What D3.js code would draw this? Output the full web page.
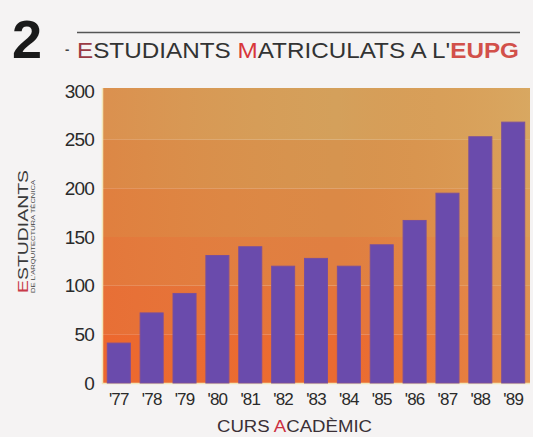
<!DOCTYPE html>
<html>
<head>
<meta charset="utf-8">
<script src="https://cdn.jsdelivr.net/npm/d3@7"></script>
<style>
  body { margin: 0; background: #f5f3f3; }
  svg { display: block; }
</style>
</head>
<body>
<div id="chart"></div>
<script>
var years = ["'77", "'78", "'79", "'80", "'81", "'82", "'83", "'84", "'85", "'86", "'87", "'88", "'89"];
var students = [41, 72, 92, 131, 140, 120, 128, 120, 142, 167, 195, 253, 268];
var yTicks = [0, 50, 100, 150, 200, 250, 300];
var bandColors = ["#eb6a30", "#e5743a", "#e07f41", "#db8946", "#d6944f", "#d4a05b"];

var width = 533,
    height = 437;

var svg = d3.select("#chart")
    .append("svg")
    .attr("width", width)
    .attr("height", height);

var x = d3.scaleBand()
    .domain(years)
    .range([104, 528])
    .paddingInner(0.3)
    .paddingOuter(0.1);

var y = d3.scaleLinear()
    .domain([0, 300])
    .range([383, 91]);

/* background gradient */
var defs = svg.append("defs");
var grad = defs.append("linearGradient")
    .attr("id", "sheen")
    .attr("x1", 0).attr("y1", 0).attr("x2", 1).attr("y2", 0);
grad.append("stop").attr("offset", "0%").attr("stop-color", "#f06028").attr("stop-opacity", 0.25);
grad.append("stop").attr("offset", "55%").attr("stop-color", "#e88a40").attr("stop-opacity", 0);
grad.append("stop").attr("offset", "100%").attr("stop-color", "#dcae66").attr("stop-opacity", 0.55);

var plotTop = 88;

svg.append("g")
    .selectAll("rect")
    .data(bandColors)
    .enter().append("rect")
    .attr("x", 102)
    .attr("width", 428)
    .attr("y", function(d, i) { return i == 5 ? plotTop : y((i + 1) * 50); })
    .attr("height", function(d, i) { return i == 5 ? y(250) - plotTop : y(i * 50) - y((i + 1) * 50); })
    .attr("fill", function(d) { return d; });

svg.append("rect")
    .attr("x", 102)
    .attr("y", plotTop)
    .attr("width", 428)
    .attr("height", y(0) - plotTop)
    .attr("fill", "url(#sheen)");

// thin light edges of the panel
svg.append("path")
    .attr("d", "M102.5," + plotTop + "V" + (y(0) + 0.5) + "H530")
    .attr("fill", "none")
    .attr("stroke", "#f3e6b8")
    .attr("stroke-width", 1.5);

/* bars */
svg.append("g")
    .selectAll("rect")
    .data(students)
    .enter().append("rect")
    .attr("x", function(d, i) { return x(years[i]); })
    .attr("y", function(d) { return y(d); })
    .attr("width", x.bandwidth())
    .attr("height", function(d) { return y(0) - y(d); })
    .attr("fill", "#6a4bac")
    .attr("stroke", "#7a4f9c")
    .attr("stroke-width", 1);

/* axes */
var yAxis = svg.append("g")
    .attr("transform", "translate(94,0)")
    .call(d3.axisLeft(y).tickValues(yTicks).tickSize(0).tickPadding(0));
yAxis.select(".domain").remove();
yAxis.selectAll("text")
    .attr("font-family", "Liberation Sans, Arial, sans-serif")
    .attr("font-size", 19)
    .attr("letter-spacing", -0.8)
    .attr("fill", "#2a2a2a");

var xAxis = svg.append("g")
    .attr("transform", "translate(0," + y(0) + ")")
    .call(d3.axisBottom(x).tickSize(0).tickPadding(10));
xAxis.select(".domain").remove();
xAxis.selectAll("text")
    .attr("font-family", "Liberation Sans, Arial, sans-serif")
    .attr("font-size", 17)
    .attr("letter-spacing", -0.8)
    .attr("fill", "#2a2a2a");

/* title */
svg.append("text")
    .attr("x", 12)
    .attr("y", 58)
    .attr("font-family", "Liberation Sans, Arial, sans-serif")
    .attr("font-weight", "bold")
    .attr("font-size", 54)
    .attr("fill", "#1a1a1a")
    .text("2");

svg.append("line")
    .attr("x1", 77).attr("x2", 520)
    .attr("y1", 32.5).attr("y2", 32.5)
    .attr("stroke", "#555")
    .attr("stroke-width", 1.3);

svg.append("text")
    .attr("x", 65).attr("y", 54)
    .attr("font-family", "Liberation Sans, Arial, sans-serif")
    .attr("font-weight", "bold")
    .attr("font-size", 13)
    .attr("fill", "#444")
    .text("-");

var title = svg.append("text")
    .attr("x", 77)
    .attr("y", 58)
    .attr("font-family", "Liberation Sans, Arial, sans-serif")
    .attr("font-size", 22)
    .attr("textLength", 442)
    .attr("lengthAdjust", "spacingAndGlyphs")
    .attr("fill", "#333");
title.append("tspan").attr("fill", "#9a3a44").text("E");
title.append("tspan").text("STUDIANTS ");
title.append("tspan").attr("fill", "#d8363a").text("M");
title.append("tspan").text("ATRICULATS A L'");
title.append("tspan").attr("fill", "#d2504a").attr("font-weight", "bold").text("EUPG");

/* y label */
var ylab = svg.append("text")
    .attr("transform", "translate(28,293) rotate(-90)")
    .attr("font-family", "Liberation Sans, Arial, sans-serif")
    .attr("font-size", 15)
    .attr("textLength", 123)
    .attr("lengthAdjust", "spacingAndGlyphs")
    .attr("fill", "#3a3a3a");
ylab.append("tspan").attr("fill", "#c83a48").text("E");
ylab.append("tspan").text("STUDIANTS");

svg.append("text")
    .attr("transform", "translate(35,293) rotate(-90)")
    .attr("font-family", "Liberation Sans, Arial, sans-serif")
    .attr("font-size", 5.5)
    .attr("textLength", 113)
    .attr("lengthAdjust", "spacingAndGlyphs")
    .attr("fill", "#444")
    .text("DE L'ARQUITECTURA TÈCNICA");

/* x label */
var xlab = svg.append("text")
    .attr("x", 217)
    .attr("y", 432)
    .attr("font-family", "Liberation Sans, Arial, sans-serif")
    .attr("font-size", 16)
    .attr("textLength", 155)
    .attr("lengthAdjust", "spacingAndGlyphs")
    .attr("fill", "#3a3036");
xlab.append("tspan").text("CURS ");
xlab.append("tspan").attr("fill", "#cc3040").text("A");
xlab.append("tspan").text("CADÈMIC");
</script>
</body>
</html>
